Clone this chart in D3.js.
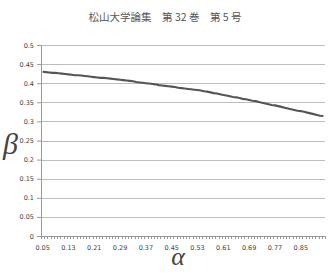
<!DOCTYPE html>
<html>
<head>
<meta charset="utf-8">
<script src="https://cdn.jsdelivr.net/npm/d3@7"></script>
<style>
  body { margin: 0; background: #fff; }
  svg { display: block; }
</style>
</head>
<body>
<div id="chart"></div>
<script>
var w_width = 330, w_height = 274;

// alpha categories 0.05 .. 0.92
var alphas = ["0.05","0.06","0.07","0.08","0.09","0.1","0.11","0.12","0.13","0.14",
  "0.15","0.16","0.17","0.18","0.19","0.2","0.21","0.22","0.23","0.24",
  "0.25","0.26","0.27","0.28","0.29","0.3","0.31","0.32","0.33","0.34",
  "0.35","0.36","0.37","0.38","0.39","0.4","0.41","0.42","0.43","0.44",
  "0.45","0.46","0.47","0.48","0.49","0.5","0.51","0.52","0.53","0.54",
  "0.55","0.56","0.57","0.58","0.59","0.6","0.61","0.62","0.63","0.64",
  "0.65","0.66","0.67","0.68","0.69","0.7","0.71","0.72","0.73","0.74",
  "0.75","0.76","0.77","0.78","0.79","0.8","0.81","0.82","0.83","0.84",
  "0.85","0.86","0.87","0.88","0.89","0.9","0.91","0.92"];

var betas = [0.430,0.429,0.428,0.427,0.427,0.426,0.425,0.424,0.423,0.422,
  0.421,0.421,0.420,0.419,0.418,0.417,0.416,0.415,0.414,0.414,
  0.413,0.412,0.411,0.410,0.409,0.408,0.407,0.406,0.405,0.403,
  0.402,0.401,0.400,0.399,0.398,0.397,0.395,0.394,0.393,0.392,
  0.391,0.390,0.388,0.387,0.386,0.385,0.384,0.383,0.382,0.381,
  0.379,0.378,0.376,0.374,0.373,0.371,0.369,0.368,0.366,0.364,
  0.363,0.361,0.359,0.358,0.356,0.354,0.353,0.351,0.349,0.347,
  0.345,0.343,0.342,0.340,0.338,0.336,0.334,0.332,0.330,0.328,
  0.327,0.325,0.323,0.321,0.319,0.317,0.315,0.314];

var xLabels = ["0.05","0.13","0.21","0.29","0.37","0.45","0.53","0.61","0.69","0.77","0.85"];
var yTicks = [0,0.05,0.1,0.15,0.2,0.25,0.3,0.35,0.4,0.45,0.5];

var title = "松山大学論集　第 32 巻　第 5 号";

var margin = {top: 45, left: 41},
    width = 284, height = 191;

var svg = d3.select("#chart").append("svg")
    .attr("width", w_width).attr("height", w_height);

var x = d3.scaleBand().domain(alphas).range([0, width]),
    y = d3.scaleLinear().domain([0, 0.5]).range([height, 0]);

svg.append("text")
    .attr("x", 165).attr("y", 21)
    .attr("text-anchor", "middle")
    .attr("font-family", "'Noto Sans CJK JP', sans-serif")
    .attr("font-size", 10.5)
    .attr("fill", "#555")
    .text(title);

var g = svg.append("g")
    .attr("transform", "translate(" + margin.left + "," + margin.top + ")");

// grid
g.selectAll("line.grid").data(yTicks.slice(1)).enter().append("line")
    .attr("class", "grid")
    .attr("x1", 0).attr("x2", width)
    .attr("y1", function(d) { return Math.round(y(d)) + 0.5; })
    .attr("y2", function(d) { return Math.round(y(d)) + 0.5; })
    .attr("stroke", "#bdbdbd").attr("stroke-width", 1.2);

// y axis
var yAxis = d3.axisLeft(y).tickValues(yTicks).tickSize(4).tickPadding(3)
    .tickFormat(function(d) { return d3.format("")(+d.toFixed(2)); });
g.append("g").attr("class", "axis axis--y").call(yAxis);

// x axis, a tick at every category boundary
var xg = g.append("g").attr("transform", "translate(0," + height + ")");
xg.append("line").attr("x1", 0).attr("x2", width).attr("y1", 0.5).attr("y2", 0.5)
    .attr("stroke", "#999");
xg.selectAll("line.tk").data(alphas.concat(["end"])).enter().append("line")
    .attr("class", "tk")
    .attr("x1", function(d, i) { return Math.round(i * x.step()) + 0.5; })
    .attr("x2", function(d, i) { return Math.round(i * x.step()) + 0.5; })
    .attr("y1", 0).attr("y2", 3)
    .attr("stroke", "#999");
xg.selectAll("text").data(xLabels).enter().append("text")
    .attr("x", function(d) { return x(d) + x.bandwidth() / 2; })
    .attr("y", 13.5)
    .attr("text-anchor", "middle")
    .attr("font-family", "'DejaVu Sans', sans-serif")
    .attr("font-size", 6.5)
    .attr("fill", "#444")
    .text(function(d) { return d; });

g.select(".axis--y").select(".domain").attr("stroke", "#999");
g.select(".axis--y").selectAll(".tick line").attr("stroke", "#999");
g.select(".axis--y").selectAll(".tick text")
    .attr("font-family", "'DejaVu Sans', sans-serif")
    .attr("font-size", 6.5).attr("fill", "#444");

// series
var line = d3.line()
    .x(function(d, i) { return x(alphas[i]) + x.bandwidth() / 2; })
    .y(function(d) { return y(d); });

g.append("path")
    .datum(betas)
    .attr("d", line)
    .attr("fill", "none")
    .attr("stroke", "#555")
    .attr("stroke-width", 2.1);

// axis titles
svg.append("text")
    .attr("x", 3).attr("y", 154)
    .attr("font-family", "'Liberation Serif', serif")
    .attr("font-style", "italic")
    .attr("font-size", 30)
    .attr("fill", "#444")
    .text("β");

svg.append("text")
    .attr("x", 178).attr("y", 265)
    .attr("text-anchor", "middle")
    .attr("font-family", "'Liberation Serif', serif")
    .attr("font-style", "italic")
    .attr("font-size", 26)
    .attr("fill", "#444")
    .text("α");
</script>
</body>
</html>
